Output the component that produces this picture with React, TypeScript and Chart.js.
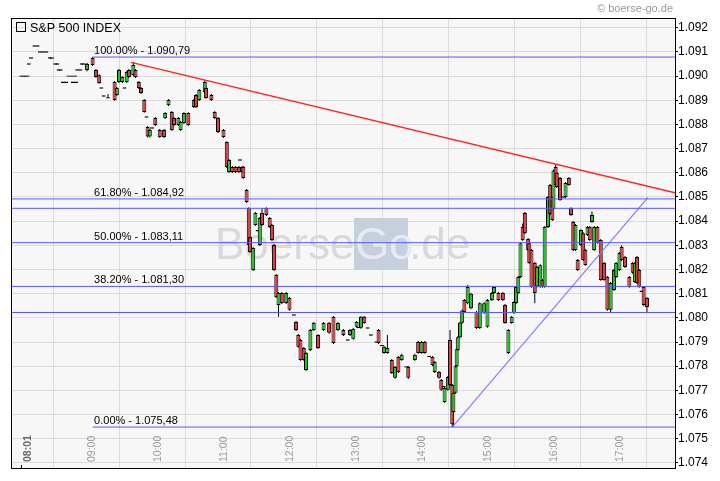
import { useEffect, useRef } from "react";
import { Chart, registerables } from "chart.js";

Chart.register(...registerables);

const TITLE = "S&P 500 INDEX";
const COPYRIGHT = "© boerse-go.de";

const times = [
  "08:01","08:03","08:05","08:07","08:08","08:10","08:13","08:16","08:18","08:21",
  "08:24","08:27","08:29","08:32","08:34","08:35","08:37","08:39","08:42","08:44",
  "08:47","08:48","08:50","08:51","08:52","08:55","08:56","08:58","09:01","09:06",
  "09:09","09:12","09:14","09:16","09:20","09:26","09:28","09:30","09:33","09:35",
  "09:37","09:39","09:43","09:45","09:48","09:50","09:53","09:55","09:56","09:58",
  "10:00","10:03","10:07","10:11","10:12","10:15","10:18","10:20","10:24","10:26",
  "10:29","10:33","10:38","10:40","10:43","10:48","10:49","10:54","10:57","11:00",
  "11:05","11:08","11:10","11:13","11:16","11:19","11:20","11:22","11:23","11:26",
  "11:28","11:29","11:32","11:34","11:36","11:38","11:40","11:44","11:47","11:49",
  "11:51","11:53","11:55","11:58","12:02","12:05","12:09","12:11","12:13","12:15",
  "12:18","12:20","12:24","12:27","12:31","12:36","12:41","12:45","12:49","12:54",
  "12:58","13:00","13:03","13:06","13:08","13:10","13:13","13:16","13:19","13:24",
  "13:26","13:29","13:31","13:34","13:38","13:41","13:44","13:47","13:51","13:53",
  "13:59","14:02","14:05","14:08","14:12","14:15","14:17","14:21","14:23","14:25",
  "14:26","14:29","14:31","14:33","14:34","14:36","14:37","14:38","14:40","14:42",
  "14:44","14:47","14:50","14:55","14:58","15:02","15:05","15:09","15:11","15:15",
  "15:19","15:21","15:24","15:27","15:29","15:31","15:33","15:35","15:37","15:39",
  "15:42","15:43","15:45","15:48","15:50","15:53","15:55","15:57","16:00","16:02",
  "16:04","16:05","16:07","16:08","16:11","16:14","16:16","16:19","16:21","16:23",
  "16:25","16:27","16:30","16:32","16:34","16:36","16:38","16:40","16:42","16:45",
  "16:48","16:51","16:54","16:57","17:00","17:02","17:05","17:07","17:10","17:14",
  "17:17","17:19","17:21","17:23","17:25","17:27","17:30",
];

const opens = [
  1090.00,1090.00,1090.00,1090.00,1090.50,1090.75,1091.25,1091.25,1091.00,1091.00,
  1091.00,1090.75,1090.75,1090.50,1090.50,1090.25,1090.25,1089.75,1089.75,1090.00,
  1090.00,1089.75,1090.00,1089.75,1090.25,1090.25,1090.50,1090.50,1090.25,1090.75,
  1090.25,1090.04,1089.51,1089.18,1089.10,1089.76,1089.22,1089.76,1089.76,1089.51,
  1089.76,1090.25,1090.05,1090.25,1089.76,1089.51,1089.01,1088.31,1087.90,1087.50,
  1087.85,1088.27,1087.77,1087.77,1088.27,1088.80,1088.52,1088.27,1087.98,1087.77,
  1088.06,1088.47,1088.72,1089.22,1089.01,1089.34,1089.51,1089.22,1088.52,1088.27,
  1087.77,1087.27,1086.03,1086.24,1086.24,1086.24,1086.53,1086.24,1086.24,1085.29,
  1084.54,1083.34,1081.98,1083.84,1083.60,1083.01,1084.34,1084.54,1084.13,1083.84,
  1083.01,1081.77,1080.53,1081.03,1080.61,1080.82,1080.12,1079.83,1079.29,1079.08,
  1078.75,1077.84,1078.67,1079.50,1079.29,1079.50,1079.79,1080.04,1079.50,1079.50,
  1079.08,1079.29,1079.13,1079.63,1079.60,1079.59,1080.04,1079.58,1079.29,1079.00,
  1079.50,1078.85,1078.55,1078.55,1078.26,1077.52,1078.38,1078.26,1077.97,1077.97,
  1078.26,1079.00,1078.55,1079.00,1078.40,1078.38,1077.76,1077.76,1077.43,1077.15,
  1076.52,1077.02,1079.08,1077.22,1076.10,1076.90,1078.00,1078.67,1079.20,1079.80,
  1080.74,1080.60,1080.40,1080.24,1079.58,1080.20,1079.63,1080.74,1081.03,1081.03,
  1081.03,1080.53,1078.55,1079.79,1080.20,1080.61,1081.03,1081.69,1083.76,1084.34,
  1083.26,1083.09,1082.81,1082.27,1081.30,1081.28,1081.57,1081.28,1083.76,1085.50,
  1085.00,1084.50,1086.24,1085.99,1085.79,1085.00,1085.00,1085.79,1084.54,1083.97,
  1082.81,1082.39,1083.01,1083.50,1082.81,1083.43,1083.76,1083.97,1082.81,1083.76,
  1083.22,1082.27,1081.69,1080.33,1081.15,1081.69,1081.98,1082.93,1082.52,1081.69,
  1082.27,1081.48,1082.52,1081.98,1081.10,1081.28,1080.82,
];

const highs = [
  1090.00,1090.00,1090.00,1090.00,1090.50,1090.75,1091.25,1091.25,1091.00,1091.00,
  1091.00,1090.75,1090.75,1090.50,1090.50,1090.25,1090.25,1089.75,1089.75,1090.00,
  1090.00,1089.75,1090.00,1089.75,1090.25,1090.25,1090.50,1090.50,1090.55,1090.79,
  1090.30,1090.08,1089.51,1089.18,1089.26,1089.80,1089.55,1090.30,1090.00,1089.51,
  1090.21,1090.30,1090.58,1090.30,1089.80,1089.55,1089.05,1088.31,1087.94,1087.81,
  1087.85,1088.31,1087.81,1087.81,1088.51,1089.05,1088.56,1088.31,1088.31,1088.14,
  1088.51,1088.51,1089.05,1089.26,1089.47,1089.84,1089.55,1089.26,1088.56,1088.31,
  1087.81,1087.31,1086.57,1086.28,1086.28,1086.28,1086.53,1086.28,1086.28,1085.33,
  1084.58,1083.38,1082.93,1084.38,1083.60,1084.17,1084.54,1084.58,1084.17,1083.88,
  1083.05,1081.81,1081.07,1081.07,1081.07,1080.86,1080.12,1079.87,1079.33,1079.12,
  1078.79,1078.59,1079.54,1079.83,1079.33,1079.83,1079.83,1080.08,1079.83,1079.54,
  1079.08,1079.54,1079.58,1079.87,1079.60,1080.08,1080.08,1079.58,1079.29,1079.00,
  1079.54,1078.85,1078.84,1079.29,1078.30,1078.01,1078.42,1078.51,1077.97,1078.01,
  1078.51,1079.04,1079.04,1079.04,1078.40,1078.42,1078.21,1077.80,1077.47,1077.15,
  1077.14,1077.59,1079.50,1077.26,1076.94,1078.04,1078.74,1079.24,1079.84,1080.34,
  1080.78,1081.36,1081.04,1080.28,1080.64,1080.64,1080.78,1081.07,1081.32,1081.07,
  1081.07,1080.57,1079.54,1080.08,1080.70,1081.32,1081.73,1083.13,1083.90,1084.38,
  1083.30,1083.13,1082.85,1082.31,1082.14,1082.22,1081.61,1083.80,1085.04,1085.54,
  1085.04,1086.14,1086.33,1086.03,1085.83,1085.00,1085.62,1085.83,1084.58,1084.01,
  1083.88,1082.43,1083.67,1083.54,1082.85,1083.80,1083.80,1084.40,1083.80,1083.80,
  1083.26,1082.31,1081.73,1081.48,1082.02,1082.31,1082.72,1083.00,1082.56,1081.73,
  1082.31,1082.31,1082.56,1082.02,1081.10,1081.32,1080.86,
];

const lows = [
  1090.00,1090.00,1090.00,1090.00,1090.50,1090.75,1091.25,1091.25,1091.00,1091.00,
  1091.00,1090.75,1090.75,1090.50,1090.50,1090.25,1090.25,1089.75,1089.75,1090.00,
  1090.00,1089.75,1090.00,1089.75,1090.25,1090.25,1090.50,1090.50,1090.20,1090.42,
  1089.93,1089.68,1089.51,1089.18,1089.10,1088.98,1089.18,1089.72,1089.72,1089.51,
  1089.72,1089.92,1090.00,1089.92,1089.47,1089.26,1088.48,1088.31,1087.46,1087.46,
  1087.85,1087.94,1087.44,1087.44,1088.23,1088.76,1087.73,1087.94,1087.94,1087.73,
  1088.02,1087.94,1088.68,1088.68,1088.97,1089.30,1089.06,1088.97,1088.23,1087.65,
  1087.44,1086.20,1085.99,1085.99,1085.99,1085.99,1086.53,1085.99,1085.75,1084.75,
  1082.97,1082.68,1081.94,1083.80,1083.60,1082.97,1083.80,1084.21,1083.72,1083.18,
  1081.94,1080.82,1080.04,1080.57,1080.57,1080.29,1080.12,1079.46,1078.76,1078.22,
  1078.22,1077.80,1078.63,1079.46,1078.71,1079.46,1079.34,1078.92,1079.46,1079.25,
  1079.08,1079.25,1079.09,1079.59,1079.60,1079.55,1079.75,1079.58,1079.29,1079.00,
  1078.92,1078.85,1078.51,1078.51,1077.68,1077.48,1077.72,1078.22,1077.97,1077.48,
  1078.22,1078.51,1078.51,1078.51,1078.40,1078.01,1077.72,1077.48,1076.98,1077.15,
  1076.48,1076.98,1077.18,1075.48,1075.48,1076.86,1077.96,1078.63,1079.16,1079.76,
  1080.20,1080.56,1080.36,1079.54,1079.54,1080.16,1079.59,1080.70,1080.99,1080.70,
  1080.70,1079.75,1078.50,1079.75,1080.16,1080.57,1080.99,1081.65,1083.18,1083.47,
  1082.77,1082.23,1081.24,1080.60,1081.26,1081.24,1081.24,1081.24,1083.72,1084.26,
  1084.01,1084.46,1085.46,1085.37,1084.84,1085.00,1084.96,1085.46,1084.21,1082.77,
  1082.77,1081.94,1082.97,1082.35,1082.15,1083.39,1083.18,1083.93,1082.77,1083.06,
  1081.53,1081.53,1080.29,1080.20,1081.11,1081.65,1081.94,1082.35,1082.06,1081.24,
  1081.82,1081.44,1081.40,1081.24,1081.10,1080.49,1080.24,
];

const closes = [
  1090.00,1090.00,1090.00,1090.00,1090.50,1090.75,1091.25,1091.25,1091.00,1091.00,
  1091.00,1090.75,1090.75,1090.50,1090.50,1090.25,1090.25,1089.75,1089.75,1090.00,
  1090.00,1089.75,1090.00,1089.75,1090.25,1090.25,1090.50,1090.50,1090.50,1090.46,
  1089.96,1089.72,1089.51,1089.18,1089.10,1089.01,1089.51,1090.25,1089.96,1089.51,
  1090.17,1089.96,1090.46,1089.96,1089.51,1089.30,1088.52,1088.31,1087.50,1087.77,
  1087.85,1087.98,1087.48,1087.48,1088.47,1089.01,1087.77,1087.98,1088.27,1088.10,
  1088.47,1087.98,1089.01,1088.72,1089.43,1089.76,1089.10,1089.01,1088.27,1087.69,
  1087.48,1086.24,1086.53,1086.03,1086.03,1086.03,1086.53,1086.03,1085.79,1084.79,
  1083.01,1082.72,1082.89,1084.34,1083.60,1084.13,1083.84,1084.25,1083.76,1083.22,
  1081.98,1080.86,1081.03,1080.61,1081.03,1080.33,1080.12,1079.50,1078.80,1078.26,
  1078.26,1078.55,1079.50,1079.79,1078.75,1079.79,1079.38,1078.96,1079.79,1079.29,
  1079.08,1079.50,1079.54,1079.83,1079.60,1080.04,1079.79,1079.58,1079.29,1079.00,
  1078.96,1078.85,1078.80,1078.75,1077.72,1077.97,1077.76,1078.47,1077.97,1077.52,
  1078.47,1078.55,1079.00,1078.55,1078.40,1078.05,1078.17,1077.52,1077.02,1077.15,
  1077.10,1077.55,1077.22,1075.60,1076.90,1078.00,1078.70,1079.20,1079.80,1080.30,
  1080.24,1081.28,1081.00,1079.58,1080.60,1080.60,1080.74,1081.03,1081.28,1080.74,
  1080.74,1079.79,1079.50,1080.04,1080.66,1081.28,1081.69,1083.09,1083.22,1083.51,
  1082.81,1082.27,1081.28,1081.03,1082.10,1082.18,1081.28,1083.76,1085.00,1084.30,
  1084.05,1086.10,1085.50,1085.41,1084.88,1085.00,1085.58,1085.50,1084.25,1082.81,
  1083.84,1081.98,1083.63,1082.39,1082.19,1083.76,1083.22,1084.25,1083.76,1083.10,
  1081.57,1081.57,1080.33,1081.44,1081.98,1082.27,1082.68,1082.39,1082.10,1081.28,
  1081.86,1082.27,1081.44,1081.28,1081.10,1080.53,1080.45,
];

const xTickTimes = ["08:01","09:00","10:00","11:00","12:00","13:00","14:00","15:00","16:00","17:00"];
const yTickValues = [1074,1075,1076,1077,1078,1079,1080,1081,1082,1083,1084,1085,1086,1087,1088,1089,1090,1091,1092];

const fibPercents = ["100.00%","61.80%","50.00%","38.20%","0.00%"];
const fibValues = [1090.79, 1084.92, 1083.11, 1081.30, 1075.48];
const fibFullWidth = [false, true, true, true, false];
const fibStartTime = "09:06";
const supportValues = [1084.53, 1080.22];
const redTrendTimes = ["09:41", "17:56"];
const redTrendValues = [1090.57, 1085.17];
const blueTrendTimes = ["14:33", "17:31"];
const blueTrendValues = [1075.48, 1084.98];

const X_MIN = 471.8;
const X_MAX = 1075.5;
const Y_MIN = 1073.787;
const Y_MAX = 1092.405;

const FONT = "'Liberation Sans', Arial, sans-serif";
const RED = "#e63c3c";
const GREEN = "#1ec81e";
const FIB_BLUE = "#5858ff";

const toMin = (t: string) => {
  const [h, m] = t.split(":").map(Number);
  return h * 60 + m;
};
const fmtAxis = (v: number) => {
  const s = String(Math.round(v));
  return s.slice(0, 1) + "." + s.slice(1);
};
const fmtDE = (v: number) => {
  const [i, d] = v.toFixed(2).split(".");
  return i.slice(0, 1) + "." + i.slice(1) + "," + d;
};

const decor = {
  id: "decor",
  beforeDraw(chart: any) {
    const { ctx, chartArea: a } = chart;
    ctx.save();
    ctx.fillStyle = "#ffffff";
    ctx.fillRect(0, 0, chart.width, chart.height);
    ctx.fillStyle = "#f7f7f7";
    ctx.fillRect(a.left, a.top, a.right - a.left, a.bottom - a.top);
    ctx.restore();
  },
  beforeDatasetsDraw(chart: any) {
    const { ctx, chartArea: a } = chart;
    ctx.save();
    ctx.beginPath();
    ctx.rect(a.left, a.top, a.right - a.left, a.bottom - a.top);
    ctx.clip();
    ctx.font = `44px ${FONT}`;
    ctx.textBaseline = "alphabetic";
    ctx.textAlign = "left";
    ctx.fillStyle = "#d9d9d9";
    ctx.fillText("Boerse", 215, 259);
    ctx.fillStyle = "#c6d0dc";
    ctx.fillRect(354, 218, 54, 52);
    ctx.fillStyle = "#e6ebf1";
    ctx.fillText("Go", 355, 259);
    ctx.fillStyle = "#d9d9d9";
    ctx.fillText(".de", 409, 259);
    ctx.restore();
  },
  afterDatasetsDraw(chart: any) {
    const { ctx } = chart;
    const xs = chart.scales.x;
    const ys = chart.scales.y;
    ctx.save();
    ctx.font = `11px ${FONT}`;
    ctx.fillStyle = "#000";
    ctx.textAlign = "left";
    ctx.textBaseline = "alphabetic";
    const lx = xs.getPixelForValue(toMin(fibStartTime)) + 1.5;
    fibValues.forEach((v, i) => {
      ctx.fillText(`${fibPercents[i]} - ${fmtDE(v)}`, lx, ys.getPixelForValue(v) - 3);
    });
    xTickTimes.forEach((t, i) => {
      const px = xs.getPixelForValue(toMin(t));
      ctx.save();
      const first = i === 0;
      ctx.translate(px + (first ? 10 : 9), chart.chartArea.bottom - 6);
      ctx.rotate(-Math.PI / 2);
      ctx.font = first ? `bold 10.5px ${FONT}` : `10.5px ${FONT}`;
      ctx.fillStyle = first ? "#6a6a6a" : "#9a9a9a";
      ctx.fillText(t, 0, 0);
      ctx.restore();
      if (first) {
        ctx.strokeStyle = "#000";
        ctx.lineWidth = 1;
        ctx.beginPath();
        ctx.moveTo(Math.round(px) + 0.5, chart.chartArea.bottom - 3);
        ctx.lineTo(Math.round(px) + 0.5, chart.chartArea.bottom);
        ctx.stroke();
      }
    });
    ctx.restore();
  },
  afterDraw(chart: any) {
    const { ctx, chartArea: a } = chart;
    ctx.save();
    ctx.strokeStyle = "#000";
    ctx.lineWidth = 1;
    ctx.strokeRect(Math.round(a.left) + 0.5, Math.round(a.top) + 0.5, Math.round(a.right - a.left), Math.round(a.bottom - a.top));
    ctx.strokeRect(16.5, 22.5, 9, 9);
    ctx.font = `12.5px ${FONT}`;
    ctx.fillStyle = "#000";
    ctx.textAlign = "left";
    ctx.textBaseline = "alphabetic";
    ctx.fillText(TITLE, 30, 31.5);
    ctx.font = `11px ${FONT}`;
    ctx.fillStyle = "#9a9a9a";
    ctx.textAlign = "right";
    ctx.fillText(COPYRIGHT, 673, 12);
    ctx.restore();
  },
};

export default function App() {
  const ref = useRef<HTMLCanvasElement>(null);

  useEffect(() => {
    const canvas = ref.current;
    if (!canvas) return;
    const xsVals = times.map(toMin);
    const bodyData = xsVals.map((x, i) => {
      let lo = Math.min(opens[i], closes[i]);
      let hi = Math.max(opens[i], closes[i]);
      if (hi - lo < 0.05) {
        const mid = (hi + lo) / 2;
        lo = mid - 0.03;
        hi = mid + 0.03;
      }
      return { x, y: [lo, hi] };
    });
    const bodyColors = xsVals.map((_, i) =>
      closes[i] > opens[i] ? GREEN : closes[i] < opens[i] ? RED : "#000"
    );
    const wickData = xsVals.map((x, i) => ({ x, y: [lows[i], highs[i]] }));

    const lineDs = (pts: { x: number; y: number }[], color: string, width = 1) => ({
      type: "line" as const,
      data: pts,
      borderColor: color,
      borderWidth: width,
      pointRadius: 0,
      fill: false,
      tension: 0,
      order: 0,
    });

    const fibDs = fibValues.map((v, i) =>
      lineDs(
        [
          { x: fibFullWidth[i] ? X_MIN : toMin(fibStartTime), y: v },
          { x: X_MAX, y: v },
        ],
        FIB_BLUE
      )
    );
    const supDs = supportValues.map((v) =>
      lineDs([{ x: X_MIN, y: v }, { x: X_MAX, y: v }], FIB_BLUE)
    );
    const redDs = lineDs(
      redTrendTimes.map((t, i) => ({ x: toMin(t), y: redTrendValues[i] })),
      "#ff2020",
      1.4
    );
    const blueDs = lineDs(
      blueTrendTimes.map((t, i) => ({ x: toMin(t), y: blueTrendValues[i] })),
      "#8080ff",
      1.2
    );

    const chart = new Chart(canvas, {
      type: "bar",
      data: {
        datasets: [
          ...fibDs,
          ...supDs,
          redDs,
          blueDs,
          {
            type: "bar",
            data: bodyData as any,
            backgroundColor: bodyColors,
            borderColor: "#000",
            borderWidth: 1,
            borderSkipped: false,
            inflateAmount: 0,
            barThickness: 4,
            grouped: false,
            order: 1,
          },
          {
            type: "bar",
            data: wickData as any,
            backgroundColor: "#000",
            borderWidth: 0,
            inflateAmount: 0,
            barThickness: 1,
            grouped: false,
            order: 2,
          },
        ] as any,
      },
      options: {
        responsive: false,
        animation: false,
        devicePixelRatio: 1,
        events: [],
        layout: { padding: { left: 11, top: 18, right: 0, bottom: 0 } },
        plugins: {
          legend: { display: false },
          tooltip: { enabled: false },
          title: { display: false },
        },
        scales: {
          x: {
            type: "linear",
            min: X_MIN,
            max: X_MAX,
            offset: false,
            grid: {
              color: (c: any) =>
                c.tick && c.tick.value === toMin(xTickTimes[0]) ? "rgba(0,0,0,0)" : "#dcdcdc",
              drawTicks: false,
              lineWidth: 1,
            },
            border: { display: true, color: "#000" },
            ticks: { display: false },
            afterBuildTicks: (s: any) => {
              s.ticks = xTickTimes.map((t) => ({ value: toMin(t) }));
            },
            afterFit: (s: any) => {
              s.height = 13;
            },
          },
          y: {
            type: "linear",
            position: "right",
            min: Y_MIN,
            max: Y_MAX,
            grid: { color: "#dcdcdc", tickColor: "#000", tickLength: 3, drawTicks: true },
            border: { display: true, color: "#000" },
            ticks: {
              color: "#000",
              padding: 0,
              font: { family: FONT, size: 12 },
              callback: (v: any) => fmtAxis(Number(v)),
            },
            afterBuildTicks: (s: any) => {
              s.ticks = yTickValues.map((v) => ({ value: v }));
            },
            afterFit: (s: any) => {
              s.width = 45;
            },
          },
        },
      } as any,
      plugins: [decor],
    });
    return () => chart.destroy();
  }, []);

  return (
    <div style={{ position: "absolute", left: 0, top: 0, width: 720, height: 481, background: "#fff" }}>
      <canvas ref={ref} width={720} height={481} style={{ display: "block", width: 720, height: 481 }} />
    </div>
  );
}
